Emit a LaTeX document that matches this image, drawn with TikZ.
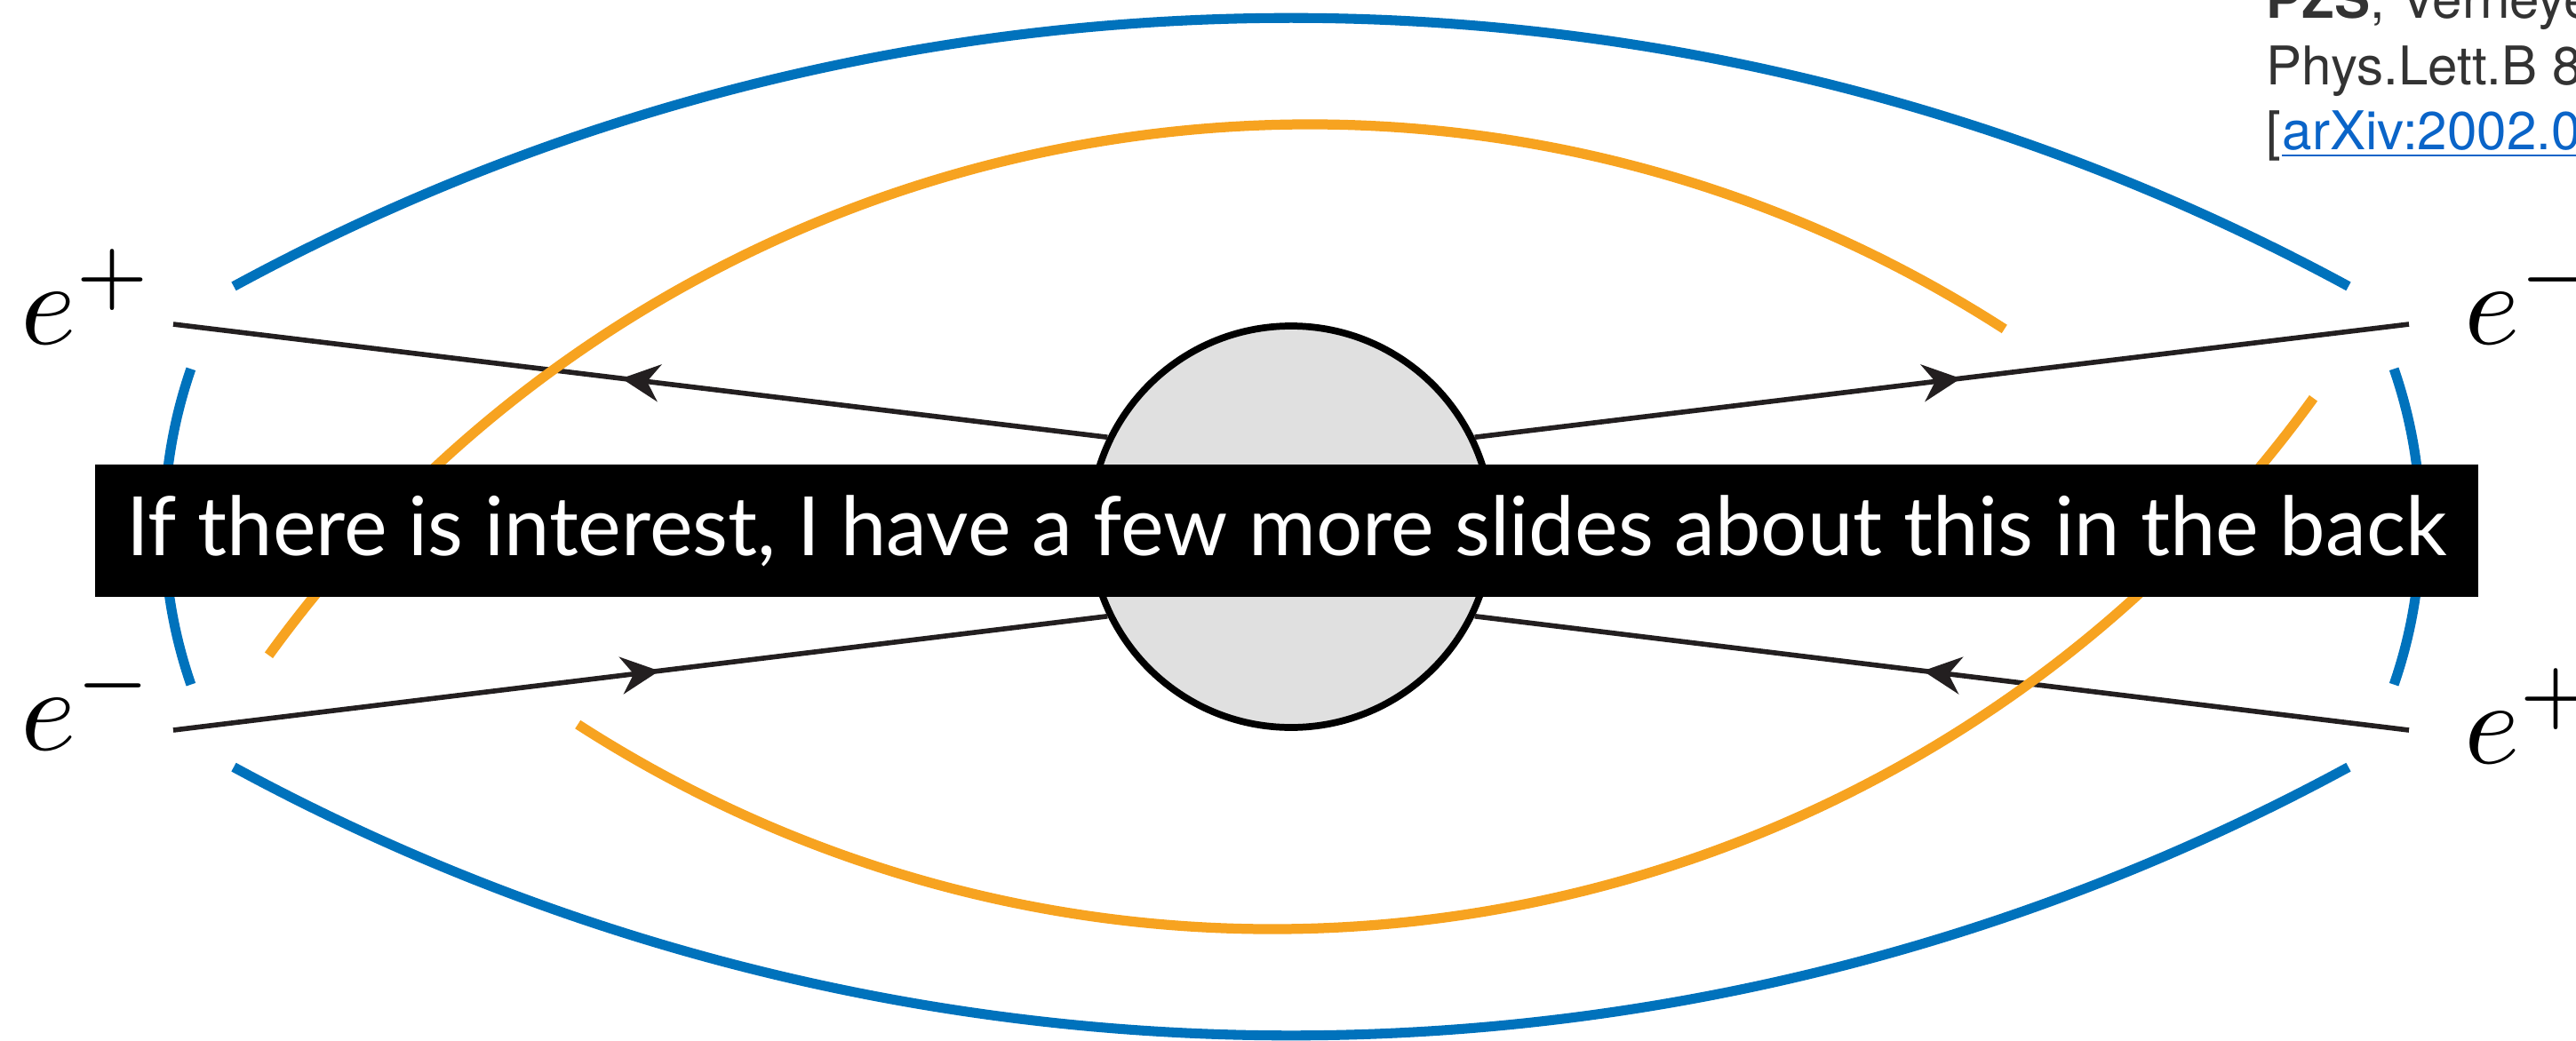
\documentclass[tikz,border=0pt]{standalone}
\usepackage{graphicx}
\usepackage{fontspec}
\newfontfamily\bannerfont{Lato}
\newfontfamily\citefont{TeX Gyre Heros}
\usetikzlibrary{arrows.meta,positioning,decorations.markings}
\definecolor{antblue}{RGB}{0,114,188}
\definecolor{antorange}{RGB}{247,163,32}
\definecolor{lineblack}{RGB}{35,31,32}
\definecolor{blobgray}{RGB}{224,224,224}
\definecolor{citegray}{RGB}{51,51,51}
\definecolor{linkblue}{RGB}{10,100,200}
\newcommand{\partlbl}[1]{\scalebox{3.8}{$#1$}}
\tikzset{
  blob/.style     ={circle, draw=black, line width=2.2pt, fill=blobgray,
                    minimum size=4.52cm, inner sep=0pt},
  fermion/.style  ={draw=lineblack, line width=1.6pt, postaction={decorate},
                    decoration={markings, mark=at position 0.5 with
                    {\arrow[xshift=2.15mm]{Stealth[length=4.3mm, width=4.2mm, inset=1.4mm]}}}},
  bluearc/.style  ={draw=antblue, line width=3.15pt},
  orangearc/.style={draw=antorange, line width=3.2pt},
  plabel/.style   ={inner sep=0pt, anchor=base west},
  banner/.style   ={fill=black, text=white, minimum width=26.82cm, minimum height=1.49cm,
                    inner sep=0pt, font=\bannerfont\fontsize{26.2}{30}\selectfont},
  citeline/.style ={inner sep=0pt, anchor=base west, text=citegray,
                    font=\citefont\fontsize{17.1}{20}\selectfont}
}
\begin{document}
\begin{tikzpicture}
\useasboundingbox (-14.53,-5.78) rectangle (14.46,5.93);
\node[blob] (blob) at (0,0) {};
\coordinate (inPos)  at (-12.58,2.28);
\coordinate (inEle)  at (-12.58,-2.29);
\coordinate (outEle) at (12.58,2.28);
\coordinate (outPos) at (12.58,-2.29);
\foreach \a/\b in {blob.154/inPos, inEle/blob.206, blob.26/outEle, outPos/blob.334}{
  \draw[fermion] (\a) -- (\b);
}
\foreach \cx/\cy/\rad/\sa/\ea in {0/-19.21/24.94/61.5/118.5, 0/19.21/24.94/241.5/298.5,
                                  -7.25/0/5.43/160.9/199.1, 7.28/0/5.43/-19.1/19.1}{
  \draw[bluearc] (\cx,\cy) ++(\sa:\rad) arc[start angle=\sa, end angle=\ea, radius=\rad];
}
\foreach \cx/\cy/\sa/\ea in {0.2/-9.92/57.2/144.1, -0.2/9.92/237.2/324.1}{
  \draw[orangearc] (\cx,\cy) ++(\sa:14.45) arc[start angle=\sa, end angle=\ea, radius=14.45];
}
\node[banner] (note) at (-0.05,-0.045) {If there is interest, I have a few more slides about this in the back};
\node[plabel] (lblInPos)  at (-14.30,2.06)  {\partlbl{e^+}};
\node[plabel] (lblInEle)  at (-14.30,-2.51) {\partlbl{e^-}};
\node[plabel] (lblOutEle) at (13.20,2.06)   {\partlbl{e^-}};
\node[plabel] (lblOutPos) at (13.20,-2.66)  {\partlbl{e^+}};
\node[citeline] (citeA) at (10.97,5.73) {\textbf{PZS}, Verheye};
\node[citeline] (citeB) at (10.97,4.98) {Phys.Lett.B 8};
\node[citeline] (citeC) at (10.97,4.25) {[};
\node[citeline, text=linkblue] (arxiv) at (citeC.base east) {arXiv:2002.0};
\draw[linkblue, line width=0.6pt] ([yshift=-0.07cm]arxiv.base west) -- ([yshift=-0.07cm]arxiv.base east);
\end{tikzpicture}
\end{document}
